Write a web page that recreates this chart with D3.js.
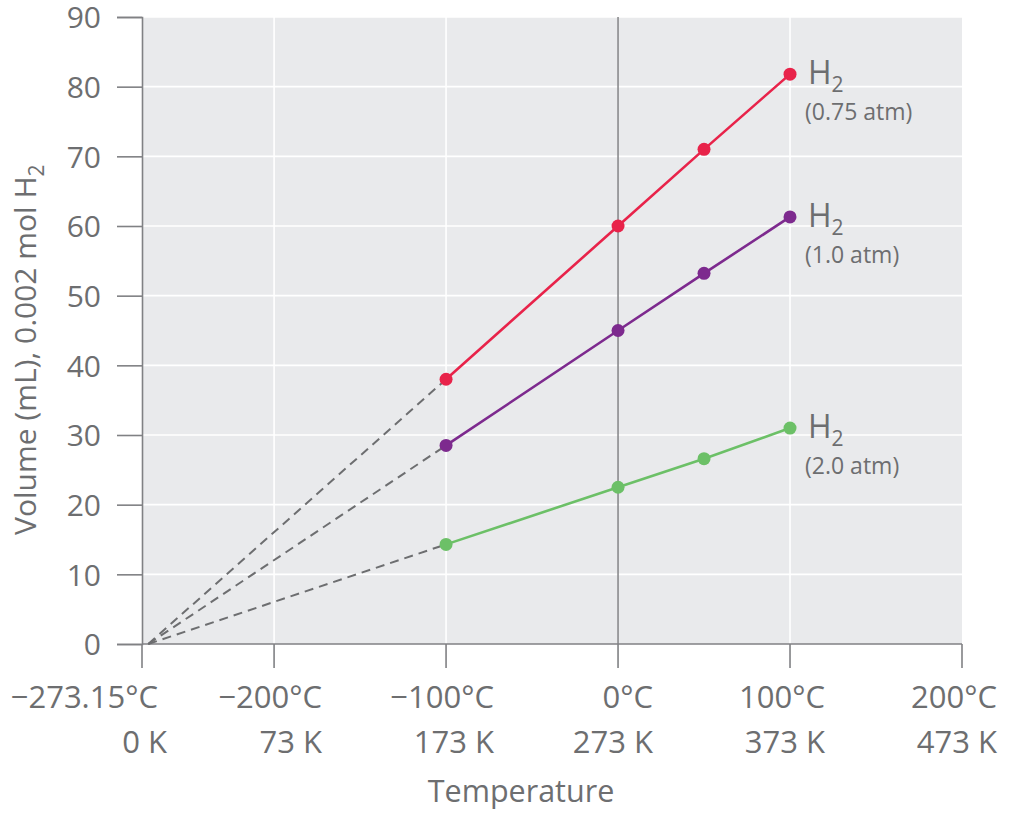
<!DOCTYPE html>
<html>
<head>
<meta charset="utf-8">
<script src="https://cdn.jsdelivr.net/npm/d3@7/dist/d3.min.js"></script>
<style>
  html, body { margin: 0; padding: 0; background: #fff; }
  svg { display: block; }
  text { font-family: "Open Sans", "Noto Sans", sans-serif; fill: #6d6e70; }
</style>
</head>
<body>
<svg id="chart" width="1023" height="820"></svg>
<script>
// ---- data ----
const temperaturesC = [-100, 0, 50, 100];
const seriesNames = ["0.75 atm", "1.0 atm", "2.0 atm"];
const seriesColors = ["#e8234a", "#7d2a8e", "#6cc067"];
const volume075 = [38.0, 60.0, 71.0, 81.8];
const volume100 = [28.5, 45.0, 53.2, 61.3];
const volume200 = [14.3, 22.5, 26.6, 31.0];
const absoluteZeroC = -273.15;
const xTickValues = [-273.15, -200, -100, 0, 100, 200];
const xTickLabelsC = ["\u2212273.15\u00B0C", "\u2212200\u00B0C", "\u2212100\u00B0C", "0\u00B0C", "100\u00B0C", "200\u00B0C"];
const xTickLabelsK = ["0 K", "73 K", "173 K", "273 K", "373 K", "473 K"];
const yTickValues = [0, 10, 20, 30, 40, 50, 60, 70, 80, 90];

(function () {
const series = [volume075, volume100, volume200].map((vals, i) => ({
  name: seriesNames[i], color: seriesColors[i],
  points: temperaturesC.map((t, j) => ({ t, v: vals[j] }))
}));

// ---- layout ----
const svg = d3.select("#chart");
const pl = 142, pr = 962, pt = 17, pb = 644;
const x = d3.scaleLinear().domain([-276.8, 200]).range([pl, pr]);
const y = d3.scaleLinear().domain([0, 90]).range([pb, pt]);
const tickX = v => (v === absoluteZeroC ? pl : x(v));
// label columns are right-aligned; offset from tick
const labelEdge = v => v === absoluteZeroC ? pl + 16 : (v < 0 ? x(v) + 48 : x(v) + 35);

// background
svg.append("rect").attr("x", pl).attr("y", pt)
  .attr("width", pr - pl).attr("height", pb - pt).attr("fill", "#e9eaec");

// horizontal gridlines
svg.append("g").selectAll("line").data(yTickValues.slice(1)).join("line")
  .attr("x1", pl).attr("x2", pr).attr("y1", d => y(d)).attr("y2", d => y(d))
  .attr("stroke", "#ffffff").attr("stroke-width", 1.6);

// vertical gridlines
svg.append("g").selectAll("line").data([-200, -100, 100]).join("line")
  .attr("x1", d => x(d)).attr("x2", d => x(d)).attr("y1", pt).attr("y2", pb)
  .attr("stroke", "#ffffff").attr("stroke-width", 1.6);

// 0 °C line
svg.append("line").attr("x1", x(0)).attr("x2", x(0)).attr("y1", pt).attr("y2", pb)
  .attr("stroke", "#8a8b8d").attr("stroke-width", 1.6);

// y axis
const yAxis = svg.append("g").attr("transform", `translate(${pl},0)`)
  .call(d3.axisLeft(y).tickValues(yTickValues).tickSize(25).tickPadding(16).tickFormat(d3.format("d")));
yAxis.select(".domain").attr("stroke", "#808184").attr("stroke-width", 1.6);
yAxis.selectAll(".tick line").attr("stroke", "#808184").attr("stroke-width", 1.6);
yAxis.selectAll(".tick text").style("font-size", "30px").attr("fill", "#6d6e70")
  .attr("dy", "0.36em")
  .style("font-family", '"Open Sans", sans-serif');

// x axis
const xAxisG = svg.append("g");
xAxisG.append("line").attr("x1", pl).attr("x2", pr).attr("y1", pb).attr("y2", pb)
  .attr("stroke", "#808184").attr("stroke-width", 1.6);
xAxisG.selectAll("line.tk").data(xTickValues).join("line").attr("class", "tk")
  .attr("x1", d => tickX(d)).attr("x2", d => tickX(d)).attr("y1", pb).attr("y2", pb + 24)
  .attr("stroke", "#808184").attr("stroke-width", 1.6);
xAxisG.selectAll("text.c").data(xTickValues).join("text").attr("class", "c")
  .attr("x", d => labelEdge(d))
  .attr("y", 708)
  .attr("text-anchor", "end")
  .style("font-size", "31px")
  .text((d, i) => xTickLabelsC[i]);
xAxisG.selectAll("text.k").data(xTickValues).join("text").attr("class", "k")
  .attr("x", d => labelEdge(d) + (d === absoluteZeroC ? 9 : 0))
  .attr("y", 753)
  .attr("text-anchor", "end")
  .style("font-size", "31px")
  .text((d, i) => xTickLabelsK[i]);

// axis titles
svg.append("text").attr("x", 521).attr("y", 802).attr("text-anchor", "middle")
  .style("font-size", "30.5px").text("Temperature");
const yt = svg.append("text").attr("transform", "translate(36,535) rotate(-90)")
  .attr("text-anchor", "start").style("font-size", "30px");
yt.append("tspan").text("Volume (mL), 0.002 mol H");
yt.append("tspan").attr("dy", 8).style("font-size", "21px").text("2");

// dashed extrapolation
svg.append("g").selectAll("line").data(series).join("line")
  .attr("x1", x(absoluteZeroC)).attr("y1", y(0))
  .attr("x2", d => x(d.points[0].t)).attr("y2", d => y(d.points[0].v))
  .attr("stroke", "#6d6e70").attr("stroke-width", 2).attr("stroke-dasharray", "9,6");

// series lines
const line = d3.line().x(d => x(d.t)).y(d => y(d.v));
svg.append("g").selectAll("path").data(series).join("path")
  .attr("d", d => line(d.points)).attr("fill", "none")
  .attr("stroke", d => d.color).attr("stroke-width", 2.6);

// points
series.forEach(s => {
  svg.append("g").selectAll("circle").data(s.points).join("circle")
    .attr("cx", d => x(d.t)).attr("cy", d => y(d.v)).attr("r", 6.5)
    .attr("fill", s.color);
});

// labels
series.forEach(s => {
  const last = s.points[s.points.length - 1];
  const lx = x(last.t), ly = y(last.v);
  const h = svg.append("text").attr("x", lx + 18).attr("y", ly + 10).style("font-size", "32px");
  h.append("tspan").text("H");
  h.append("tspan").attr("dy", 8).style("font-size", "21px").text("2");
  svg.append("text").attr("x", lx + 15).attr("y", ly + 46).style("font-size", "23px")
    .text("(" + s.name + ")");
});
})();
</script>
</body>
</html>
